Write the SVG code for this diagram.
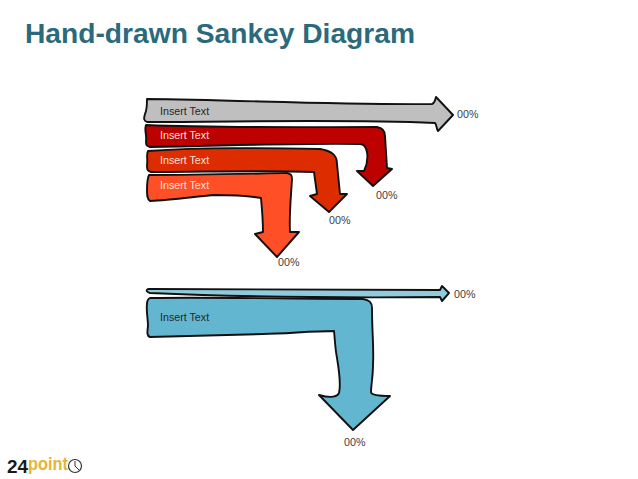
<svg xmlns="http://www.w3.org/2000/svg" width="638" height="479" viewBox="0 0 638 479">
<style>
text{font-family:"Liberation Sans",Arial,sans-serif}
.t{font-size:10.7px;fill:#262626}
.w{font-size:10.7px;fill:#fbe3dc}
.p{font-size:10.7px;fill:#404040}
.f{stroke:#111;stroke-width:1.9;stroke-linejoin:round}
</style>
<rect width="638" height="479" fill="#fff"/>
<text x="25" y="43" font-size="28.2" font-weight="700" fill="#2b6a7d">Hand-drawn Sankey Diagram</text>
<g id="connectors">
<path id="flow-grey" class="f" fill="#bfbfbf" d="M147 99C240 100 340 105 432 104C435 103 435 100 436 97L453 115L438 131C436 128 437 125 435 123C340 119 240 122 147 122C143 120 144 118 145 114C147 110 147 104 147 99Z"/>
<path id="flow-red1" class="f" fill="#bd0000" d="M146 125C220 128 300 127 377 127C383 128 385 131 385 136L387 168L392 169L373 186L357 171L364 171C367 165 368 158 367 152C366 147 364 144 360 144C290 143 220 146 150 147C146 146 146 145 146 141C147 135 144 130 146 125Z"/>
<path id="flow-red2" class="f" fill="#dd2c00" d="M148 151C205 147 265 148 320 149C332 151 337 155 337 164L340 194L347 194L329 212L310 196L317 194L314 172C260 170 205 172 151 172C147 171 147 169 147 165C148 160 146 155 148 151Z"/>
<path id="flow-red3" class="f" fill="#ff4f26" d="M149 175C195 175 240 174 287 173C291 174 292 175 292 179C291 197 289 215 290 232L299 232L277 257L255 234L263 232C263 220 262 209 261 198C245 195 230 195 213 195C192 197 170 200 150 201C147 199 147 195 147 190C147 185 147 179 149 175Z"/>
<path id="flow-blue1" class="f" fill="#8fcbdc" d="M148 289C245 290 342 290 440 290L442 286L449 293L442 301L440 297C340 298 245 297 150 293C146 292 146 290 148 289Z"/>
<path id="flow-blue2" class="f" fill="#62b6d0" d="M150 298C220 297 292 299 363 299C369 300 372 302 372 308C372 335 374 345 373 365C373 376 371 386 371 392C371 395 378 396 390 396L353 430L319 395C330 398 337 397 339 393C341 385 339 370 337 358C335 348 335 340 334 331C310 331 285 334 263 334C225 335 187 336 150 337C147 336 147 333 148 326C148 318 146 311 147 304C147 300 148 299 150 298Z"/>
</g>
<g id="node-grey"><text class="t" x="160" y="115">Insert Text</text><text class="p" x="457" y="118">00%</text></g>
<g id="node-red1"><text class="w" x="160" y="139">Insert Text</text><text class="p" x="376" y="199">00%</text></g>
<g id="node-red2"><text class="w" x="160" y="164">Insert Text</text><text class="p" x="329" y="224">00%</text></g>
<g id="node-red3"><text class="w" x="160" y="189">Insert Text</text><text class="p" x="278" y="266">00%</text></g>
<g id="node-blue1"><text class="p" x="454" y="298">00%</text></g>
<g id="node-blue2"><text class="t" x="160" y="321">Insert Text</text><text class="p" x="344" y="446">00%</text></g>
<g id="logo">
<text x="7" y="473" font-size="18" font-weight="700" fill="#1a1a1a" textLength="21" lengthAdjust="spacingAndGlyphs">24</text>
<text x="28" y="470" font-size="19" font-weight="700" fill="#e5b53a" textLength="40" lengthAdjust="spacingAndGlyphs">point</text>
<circle cx="75" cy="466" r="6.5" fill="#fff" stroke="#333" stroke-width="1.2"/>
<path d="M75 461V466L79 470" fill="none" stroke="#333" stroke-width="1"/>
</g>
</svg>
